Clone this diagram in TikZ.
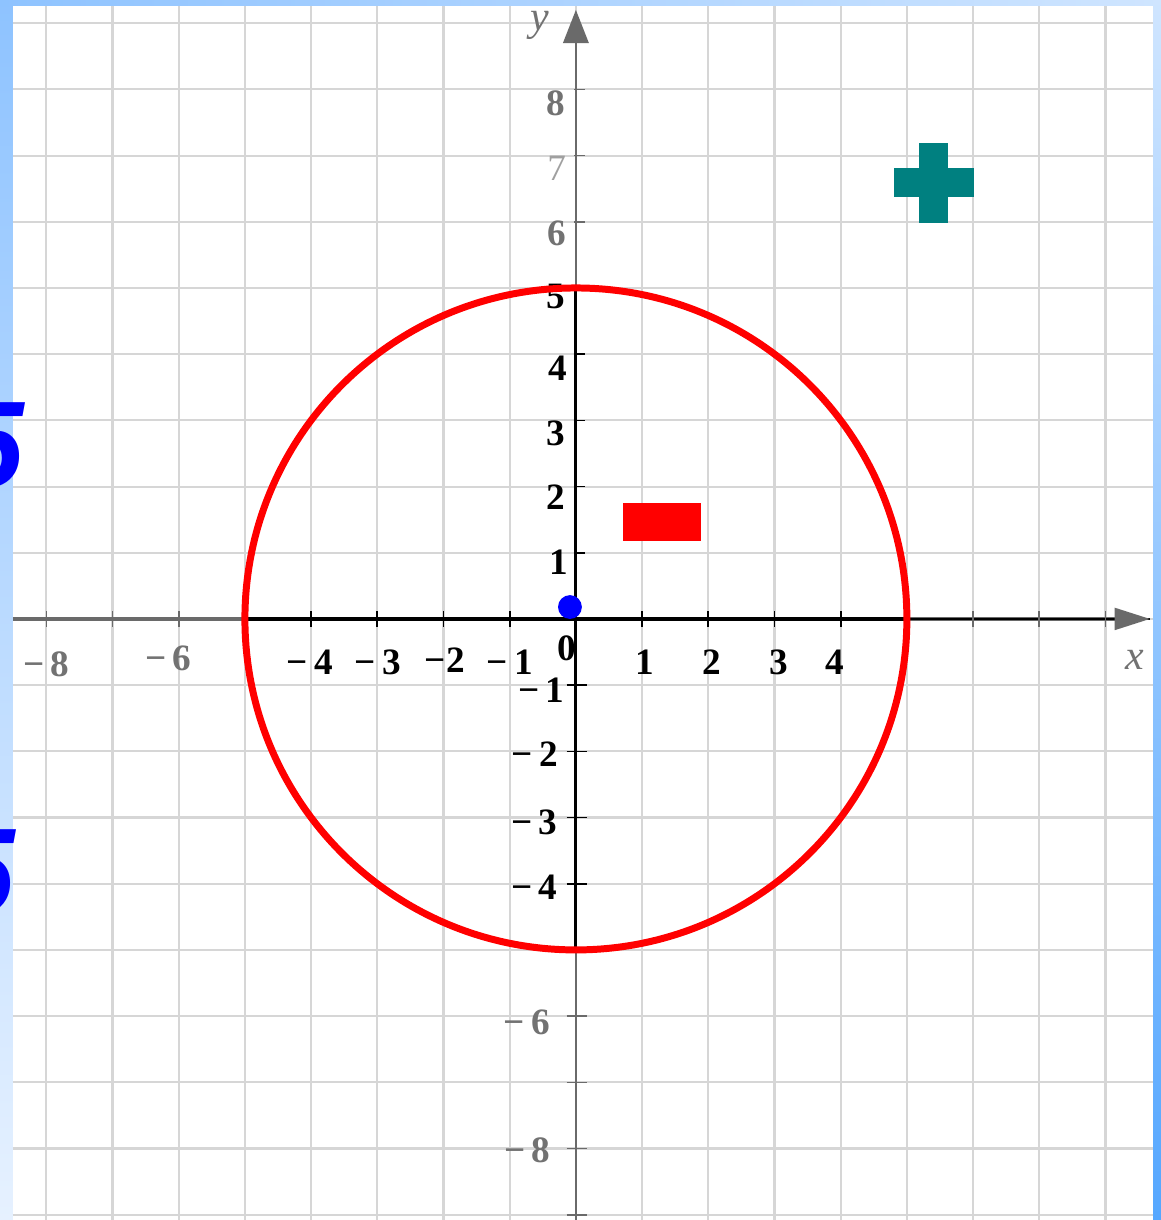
\documentclass[tikz,border=0pt]{standalone}
\usepackage{fontspec}
\setmainfont{Liberation Serif}
\newfontfamily\bigdigit{Liberation Sans}
\usetikzlibrary{calc}
\definecolor{gpGrid}{HTML}{D6D6D6}
\definecolor{gpAxis}{HTML}{6A6A6A}
\definecolor{gpLabel}{HTML}{727272}
\definecolor{gpFaint}{HTML}{A0A0A0}
\definecolor{gpTeal}{HTML}{008080}
\definecolor{gpBlueA}{HTML}{8EC3FF}
\definecolor{gpBlueB}{HTML}{E6F1FF}
\definecolor{gpBlueC}{HTML}{55A7FF}
\definecolor{gpBlueD}{HTML}{CFE5FF}
\tikzset{
  gridline/.style={gpGrid, line width=0.9pt},
  axisgray/.style={gpAxis, line width=1.4pt},
  axisblack/.style={black, line width=2pt},
  tickmark/.style={line width=0.7pt},
  numlbl/.style={font=\fontsize{16}{18}\selectfont\bfseries, inner sep=0pt},
  graylbl/.style={numlbl, text=gpLabel},
  faintlbl/.style={font=\fontsize{16}{18}\selectfont, text=gpFaint, inner sep=0pt},
  varlbl/.style={font=\fontsize{18}{20}\selectfont\itshape, text=gpLabel, inner sep=0pt},
  minusbar/.style={fill=red, minimum width=11.85mm, minimum height=5.74mm, inner sep=0pt},
  centredot/.style={circle, fill=blue, minimum size=3.6mm, inner sep=0pt},
  fivemark/.style={font=\bigdigit\fontsize{53}{56}\selectfont\bfseries\itshape, text=blue, inner sep=0pt}
}
\begin{document}
\begin{tikzpicture}
  \clip (-8.70,-9.08) rectangle (8.837,9.35);
  \useasboundingbox (-8.70,-9.08) rectangle (8.837,9.35);
  % frame
  \shade[top color=gpBlueA, bottom color=gpBlueB] (-8.70,-9.08) rectangle (-8.505,9.35);
  \shade[left color=gpBlueA, right color=gpBlueD] (-8.70,9.26) rectangle (8.837,9.35);
  \shade[top color=gpBlueD, bottom color=gpBlueC] (8.716,-9.08) rectangle (8.837,9.35);
  \fill[white] (-8.505,-9.08) rectangle (8.716,9.26);
  % grid
  \foreach \x in {-8,...,8}{\draw[gridline] (\x,-9.08) -- (\x,9.26);}
  \foreach \y in {-9,...,9}{\draw[gridline] (-8.505,\y) -- (8.716,\y);}
  % axes
  \coordinate (xmin) at (-8.505,0);
  \coordinate (xtip) at (8.67,0);
  \coordinate (ymin) at (0,-9.08);
  \coordinate (ytip) at (0,9.2);
  \draw[axisgray] (xmin) -- (8.2,0);
  \draw[axisgray, line width=1.2pt] (ymin) -- (0,8.75);
  \draw[axisblack] (-5,0) -- (5,0);
  \draw[black, line width=0.6pt] (5,0) -- (xtip);
  \draw[black, line width=1.3pt] (0,-5) -- (0,5);
  \fill[gpAxis] (xtip) -- ++(-0.53,0.17) -- ++(0,-0.34) -- cycle;
  \fill[gpAxis] (ytip) -- ++(0.196,-0.5) -- ++(-0.392,0) -- cycle;
  % ticks
  \foreach \x in {-8,-7,-6,6,7,8}{\draw[tickmark, gpAxis] (\x,-0.12) -- (\x,0.12);}
  \foreach \x in {-4,...,-1,1,2,3,4}{\draw[tickmark, black] (\x,-0.12) -- (\x,0.12);}
  \foreach \y in {6,7,8}{\draw[tickmark, gpAxis] (-0.03,\y) -- (0.14,\y);}
  \foreach \y in {1,...,4}{\draw[tickmark, black] (-0.03,\y) -- (0.14,\y);}
  \foreach \y in {-4,...,-1}{\draw[tickmark, black] (-0.14,\y) -- (0.17,\y);}
  \foreach \y in {-9,-8,-7,-6}{\draw[tickmark, gpAxis] (-0.14,\y) -- (0.17,\y);}
  % labels on the x axis
  \node[graylbl] (xl8) at (-8.0,-0.68) {−\,8};
  \node[graylbl] (xl6) at (-6.16,-0.60) {−\,6};
  \foreach \t/\px/\py [count=\i] in {−\,4/-4.02/-0.66, −\,3/-2.99/-0.66, −2/-1.98/-0.63,
      −\,1/-1.00/-0.65, 0/-0.14/-0.44, 1/1.04/-0.66, 2/2.05/-0.66, 3/3.07/-0.66, 4/3.91/-0.66}
    {\node[numlbl] (xlab\i) at (\px,\py) {\t};}
  \node[varlbl] (xname) at (8.44,-0.62) {x};
  % labels on the y axis
  \node[varlbl] (yname) at (-0.54,8.97) {y};
  \node[graylbl] (yl8) at (-0.30,7.79) {8};
  \node[faintlbl] (yl7) at (-0.29,6.81) {7};
  \node[graylbl] (yl6) at (-0.29,5.83) {6};
  \foreach \t/\px/\py [count=\i] in {5/-0.30/4.87, 4/-0.27/3.79, 3/-0.30/2.81, 2/-0.30/1.84,
      1/-0.26/0.86, −\,1/-0.52/-1.08, −\,2/-0.62/-2.05, −\,3/-0.63/-3.07, −\,4/-0.63/-4.06}
    {\node[numlbl] (ylab\i) at (\px,\py) {\t};}
  \node[graylbl] (ylm6) at (-0.74,-6.09) {−\,6};
  \node[graylbl] (ylm8) at (-0.73,-8.02) {−\,8};
  % circle and marks
  \draw[red, line width=3pt] (0,0) circle (5);
  \node[centredot] (dot) at (-0.09,0.18) {};
  \node[minusbar] (minus) at (1.30,1.47) {};
  \fill[gpTeal] (5.186,5.987) rectangle (5.624,7.195);
  \fill[gpTeal] (4.799,6.370) rectangle (6.008,6.808);
  % big digits cut by the left edge
  \node[fivemark, anchor=north east] (fiveA) at (-8.33,3.28) {5};
  \node[fivemark, anchor=north east] (fiveB) at (-8.47,-3.17) {5};
\end{tikzpicture}
\end{document}
